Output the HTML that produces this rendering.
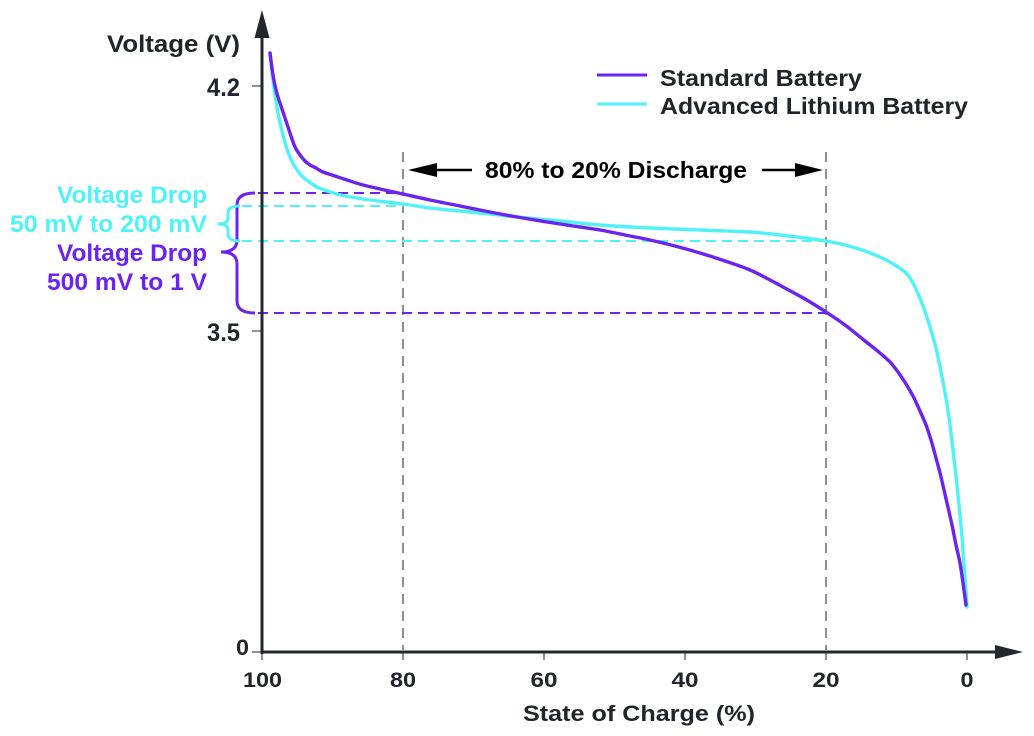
<!DOCTYPE html>
<html>
<head>
<meta charset="utf-8">
<style>
  html,body{margin:0;padding:0;background:#ffffff;}
  svg{display:block;}
  text{font-family:"Liberation Sans",Arial,sans-serif;font-weight:bold;}
</style>
</head>
<body>
<svg id="chart" width="1034" height="736" viewBox="0 0 1034 736" xmlns="http://www.w3.org/2000/svg">
  <rect width="1034" height="736" fill="#ffffff"/>

  <!-- vertical gray dashed markers -->
  <g stroke="#8a9199" stroke-width="2" stroke-dasharray="10 7" fill="none">
    <line x1="403" y1="152" x2="403" y2="650"/>
    <line x1="826" y1="152" x2="826" y2="650"/>
  </g>

  <!-- horizontal reference dashes -->
  <g stroke-width="2" fill="none" stroke-dasharray="10 6">
    <line x1="258" y1="193" x2="403" y2="193" stroke="#6a23f0"/>
    <line x1="258" y1="313" x2="826" y2="313" stroke="#6a23f0"/>
    <line x1="242" y1="206" x2="403" y2="206" stroke="#4ff2f7"/>
    <line x1="242" y1="241" x2="826" y2="241" stroke="#4ff2f7"/>
  </g>

  <!-- braces -->
  <path d="M255,193 Q237,193 237,205 L237,240 Q237,252 221,252 Q237,252 237,264 L237,301 Q237,313 255,313" fill="none" stroke="#6a23f0" stroke-width="3"/>
  <path d="M240,206 Q228,206 228,213 L228,218 Q228,224 218,224 Q228,224 228,230 L228,234 Q228,241 240,241" fill="none" stroke="#4ff2f7" stroke-width="3"/>

  <!-- ticks -->
  <g stroke="#8a9199" stroke-width="2">
    <line x1="252" y1="86" x2="262" y2="86"/>
    <line x1="252" y1="331" x2="262" y2="331"/>
    <line x1="252" y1="652" x2="262" y2="652"/>
    <line x1="262" y1="652" x2="262" y2="660"/>
    <line x1="403" y1="652" x2="403" y2="660"/>
    <line x1="544" y1="652" x2="544" y2="660"/>
    <line x1="685" y1="652" x2="685" y2="660"/>
    <line x1="826" y1="652" x2="826" y2="660"/>
    <line x1="967" y1="652" x2="967" y2="660"/>
  </g>

  <!-- curves -->
  <polyline class="curve" fill="none" stroke="#4ff2f7" stroke-width="3.4" stroke-linejoin="round" stroke-linecap="round"
    points="270,53 272,72 275,95 278,113 282,131 286,146 290,157 295,167 301,175 308,181 317,187 330,192 345,196 370,200 403,204 430,208 460,211 490,214 517,217 560,221 600,225 650,228 700,230 750,232 780,235 805,238 826,241 845,245 865,251 880,257 895,265 907,274 915,287 923,306 930,327 936,348 941,372 946,398 950,425 953,450 957,485 960,515 962,537 964,565 966,590 967,607"/>
  <polyline class="curve" fill="none" stroke="#6a23f0" stroke-width="3.4" stroke-linejoin="round" stroke-linecap="round"
    points="270,53 273,75 276,90 279,100 283,112 287,124 291,136 295,147 300,155 305,161 310,165 316,168 323,172 335,176 350,181 363,185 380,189 403,194 430,200 460,206 490,212 517,217 560,224 600,230 625,235 650,240 675,246 700,253 725,261 750,270 770,280 783,287 805,299 826,312 845,325 865,341 880,353 890,362 898,372 906,384 913,396 920,411 926,425 931,440 936,458 941,477 947,503 952,525 956,545 960,563 963,583 966,605"/>

  <!-- axes -->
  <line x1="262" y1="30" x2="262" y2="654" stroke="#23272e" stroke-width="3"/>
  <polygon points="262,10 254.5,38 269.5,38" fill="#23272e"/>
  <line x1="261" y1="652" x2="1000" y2="652" stroke="#23272e" stroke-width="3"/>
  <polygon points="1023,652 995,645 995,659" fill="#23272e"/>

  <!-- y axis labels -->
  <text x="107" y="52" font-size="24" fill="#20242b" textLength="133" lengthAdjust="spacingAndGlyphs">Voltage (V)</text>
  <text x="207" y="96" font-size="25" fill="#20242b" textLength="33" lengthAdjust="spacingAndGlyphs">4.2</text>
  <text x="207" y="341" font-size="25" fill="#20242b" textLength="33" lengthAdjust="spacingAndGlyphs">3.5</text>
  <text x="236" y="655" font-size="22" fill="#20242b" textLength="13" lengthAdjust="spacingAndGlyphs">0</text>

  <!-- x axis labels -->
  <g font-size="21" fill="#20242b" text-anchor="middle">
    <text x="262.5" y="687" textLength="39" lengthAdjust="spacingAndGlyphs">100</text>
    <text x="403" y="687" textLength="26" lengthAdjust="spacingAndGlyphs">80</text>
    <text x="544" y="687" textLength="27" lengthAdjust="spacingAndGlyphs">60</text>
    <text x="685" y="687" textLength="27" lengthAdjust="spacingAndGlyphs">40</text>
    <text x="826" y="687" textLength="27" lengthAdjust="spacingAndGlyphs">20</text>
    <text x="967" y="687" textLength="13" lengthAdjust="spacingAndGlyphs">0</text>
  </g>
  <text x="523" y="721" font-size="22" fill="#20242b" textLength="232" lengthAdjust="spacingAndGlyphs">State of Charge (%)</text>

  <!-- voltage drop labels -->
  <g font-size="24" text-anchor="end">
    <text x="207" y="203" fill="#4ff2f7" textLength="150" lengthAdjust="spacingAndGlyphs">Voltage Drop</text>
    <text x="207" y="232" fill="#4ff2f7" textLength="197" lengthAdjust="spacingAndGlyphs">50 mV to 200 mV</text>
    <text x="207" y="261" fill="#6a23f0" textLength="150" lengthAdjust="spacingAndGlyphs">Voltage Drop</text>
    <text x="207" y="290" fill="#6a23f0" textLength="160" lengthAdjust="spacingAndGlyphs">500 mV to 1 V</text>
  </g>

  <!-- discharge annotation -->
  <line x1="432" y1="170" x2="472" y2="170" stroke="#000" stroke-width="2.5"/>
  <polygon points="408,170 437,163 437,177" fill="#000"/>
  <line x1="762" y1="170" x2="798" y2="170" stroke="#000" stroke-width="2.5"/>
  <polygon points="823,170 795,163 795,177" fill="#000"/>
  <text x="485" y="178" font-size="23" fill="#000" textLength="262" lengthAdjust="spacingAndGlyphs">80% to 20% Discharge</text>

  <!-- legend -->
  <line x1="597" y1="75" x2="647" y2="75" stroke="#6a23f0" stroke-width="3"/>
  <line x1="597" y1="104" x2="647" y2="104" stroke="#4ff2f7" stroke-width="3"/>
  <text x="660" y="86" font-size="23" fill="#20242b" textLength="202" lengthAdjust="spacingAndGlyphs">Standard Battery</text>
  <text x="660" y="114" font-size="23" fill="#20242b" textLength="308" lengthAdjust="spacingAndGlyphs">Advanced Lithium Battery</text>
</svg>
<script>
(function(){
  try{
    var NS="http://www.w3.org/2000/svg";
    var polys=document.querySelectorAll("polyline.curve");
    for(var k=0;k<polys.length;k++){
      var pl=polys[k];
      var nums=pl.getAttribute("points").trim().split(/[\s,]+/).map(Number);
      var p=[];
      for(var i=0;i<nums.length;i+=2)p.push([nums[i],nums[i+1]]);
      var d="M"+p[0][0]+","+p[0][1];
      for(var i=0;i<p.length-1;i++){
        var p0=p[i>0?i-1:0],p1=p[i],p2=p[i+1],p3=p[i+2<p.length?i+2:p.length-1];
        var c1x=p1[0]+(p2[0]-p0[0])/6,c1y=p1[1]+(p2[1]-p0[1])/6;
        var c2x=p2[0]-(p3[0]-p1[0])/6,c2y=p2[1]-(p3[1]-p1[1])/6;
        d+=" C"+c1x.toFixed(2)+","+c1y.toFixed(2)+" "+c2x.toFixed(2)+","+c2y.toFixed(2)+" "+p2[0]+","+p2[1];
      }
      var path=document.createElementNS(NS,"path");
      path.setAttribute("d",d);
      path.setAttribute("fill","none");
      path.setAttribute("stroke",pl.getAttribute("stroke"));
      path.setAttribute("stroke-width",pl.getAttribute("stroke-width"));
      path.setAttribute("stroke-linecap","round");
      path.setAttribute("stroke-linejoin","round");
      pl.parentNode.insertBefore(path,pl);
      pl.parentNode.removeChild(pl);
    }
  }catch(e){}
})();
</script>
</body>
</html>
